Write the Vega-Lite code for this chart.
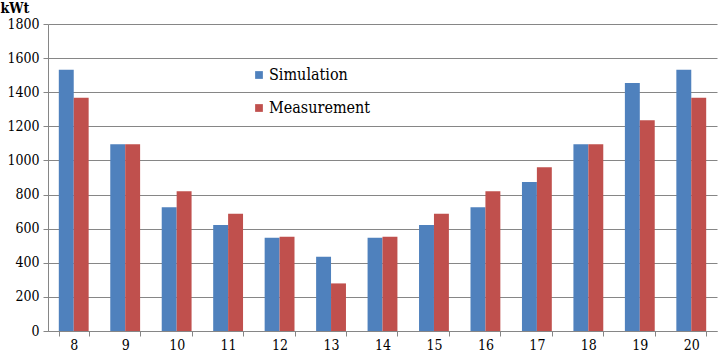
{
  "$schema": "https://vega.github.io/schema/vega-lite/v6.json",
  "width": 669,
  "height": 307,
  "autosize": {"type": "none"},
  "padding": {"left": 48, "top": 24, "right": 1, "bottom": 30},
  "background": "white",
  "config": {
    "view": {"stroke": null},
    "font": "DejaVu Serif",
    "axis": {"labelFont": "DejaVu Serif Condensed, DejaVu Serif", "labelColor": "black", "labelFontSize": 14, "domainColor": "#868686", "tickColor": "#868686", "gridColor": "#868686", "gridWidth": 1}
  },
  "data": {
    "values": [
      {"hour": 8, "series": "Simulation", "value": 1532},
      {"hour": 8, "series": "Measurement", "value": 1367},
      {"hour": 9, "series": "Simulation", "value": 1095},
      {"hour": 9, "series": "Measurement", "value": 1095},
      {"hour": 10, "series": "Simulation", "value": 725},
      {"hour": 10, "series": "Measurement", "value": 819},
      {"hour": 11, "series": "Simulation", "value": 621},
      {"hour": 11, "series": "Measurement", "value": 688},
      {"hour": 12, "series": "Simulation", "value": 547},
      {"hour": 12, "series": "Measurement", "value": 552},
      {"hour": 13, "series": "Simulation", "value": 436},
      {"hour": 13, "series": "Measurement", "value": 279},
      {"hour": 14, "series": "Simulation", "value": 547},
      {"hour": 14, "series": "Measurement", "value": 552},
      {"hour": 15, "series": "Simulation", "value": 621},
      {"hour": 15, "series": "Measurement", "value": 688},
      {"hour": 16, "series": "Simulation", "value": 725},
      {"hour": 16, "series": "Measurement", "value": 819},
      {"hour": 17, "series": "Simulation", "value": 873},
      {"hour": 17, "series": "Measurement", "value": 960},
      {"hour": 18, "series": "Simulation", "value": 1095},
      {"hour": 18, "series": "Measurement", "value": 1095},
      {"hour": 19, "series": "Simulation", "value": 1454},
      {"hour": 19, "series": "Measurement", "value": 1235},
      {"hour": 20, "series": "Simulation", "value": 1532},
      {"hour": 20, "series": "Measurement", "value": 1367}
    ]
  },
  "mark": {"type": "bar"},
  "encoding": {
    "x": {
      "field": "hour", "type": "ordinal", "sort": null,
      "scale": {"paddingInner": 0.42, "paddingOuter": 0.21},
      "axis": {"title": null, "labelAngle": 0, "tickBand": "extent", "tickSize": 5, "labelPadding": 9, "grid": false, "labelBaseline": "middle"}
    },
    "xOffset": {"field": "series", "type": "nominal", "sort": ["Simulation", "Measurement"]},
    "y": {
      "field": "value", "type": "quantitative",
      "scale": {"domain": [0, 1800], "nice": false},
      "axis": {"values": [0, 200, 400, 600, 800, 1000, 1200, 1400, 1600, 1800], "format": "d", "tickSize": 5, "labelPadding": 4, "title": "kWt", "titleAngle": 0, "titleAlign": "left", "titleBaseline": "middle", "titleX": -48, "titleY": -16, "titleFont": "DejaVu Serif Condensed, DejaVu Serif", "titleFontSize": 14, "titleFontWeight": "bold", "titleColor": "black"}
    },
    "color": {
      "field": "series", "type": "nominal",
      "scale": {"domain": ["Simulation", "Measurement"], "range": ["#4F81BD", "#C0504D"]},
      "legend": {"title": null, "orient": "none", "legendX": 203, "legendY": 43, "symbolType": "square", "symbolSize": 60, "symbolStrokeWidth": 0, "labelFont": "DejaVu Serif Condensed, DejaVu Serif", "labelFontSize": 16, "labelColor": "black", "rowPadding": 17, "padding": 0, "labelOffset": 2}
    }
  }
}
